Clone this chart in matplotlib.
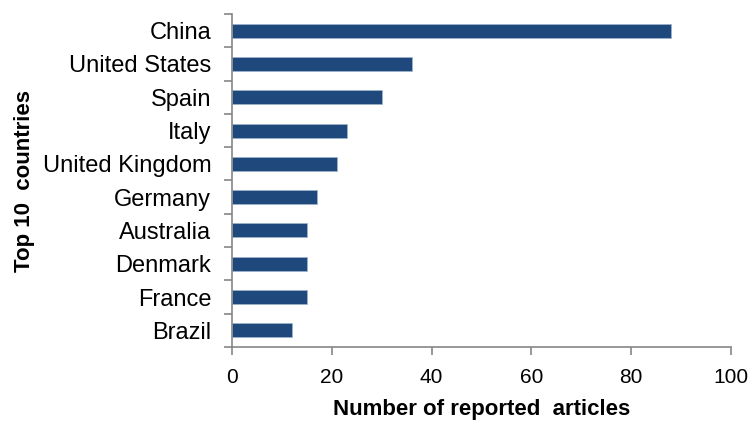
import matplotlib.pyplot as plt

countries = ["China", "United States", "Spain", "Italy", "United Kingdom",
             "Germany", "Australia", "Denmark", "France", "Brazil"]
articles = [88, 36, 30, 23, 21, 17, 15, 15, 15, 12]
xticks = [0, 20, 40, 60, 80, 100]

plt.rcParams['font.family'] = ['Liberation Sans', 'DejaVu Sans']

fig = plt.figure(figsize=(7.51, 4.21), dpi=100)
ax = fig.add_axes([232 / 751, 1 - 347 / 421, 499 / 751, 333 / 421])

# top country first
pos = list(range(len(countries)))[::-1]
ax.barh(pos, articles, height=0.42, color="#1F497D", edgecolor="#9fb3cc", linewidth=0.5)

ax.set_xlim(0, 100)
ax.set_ylim(-0.5, len(countries) - 0.5)
ax.set_xticks(xticks)
ax.set_yticks(pos)
ax.set_yticklabels(countries)
# ticks between categories, like Excel
ax.set_yticks([p - 0.5 for p in range(len(countries) + 1)], minor=True)

grey = "#868686"
for s in ["top", "right"]:
    ax.spines[s].set_visible(False)
for s in ["left", "bottom"]:
    ax.spines[s].set_color(grey)
    ax.spines[s].set_linewidth(1.2)

ax.tick_params(axis="y", which="major", length=0, pad=15, labelsize=17)
ax.tick_params(axis="y", which="minor", length=6, width=1.2, color=grey)
ax.tick_params(axis="x", length=6, width=1.2, color=grey, pad=9, labelsize=15)

ax.set_xlabel("Number of reported  articles", fontsize=16, fontweight="bold", labelpad=9)
ax.set_ylabel("Top 10  countries", fontsize=16, fontweight="bold")
ax.yaxis.set_label_coords(-0.395, 0.5)

fig.savefig("out.png", dpi=100)
